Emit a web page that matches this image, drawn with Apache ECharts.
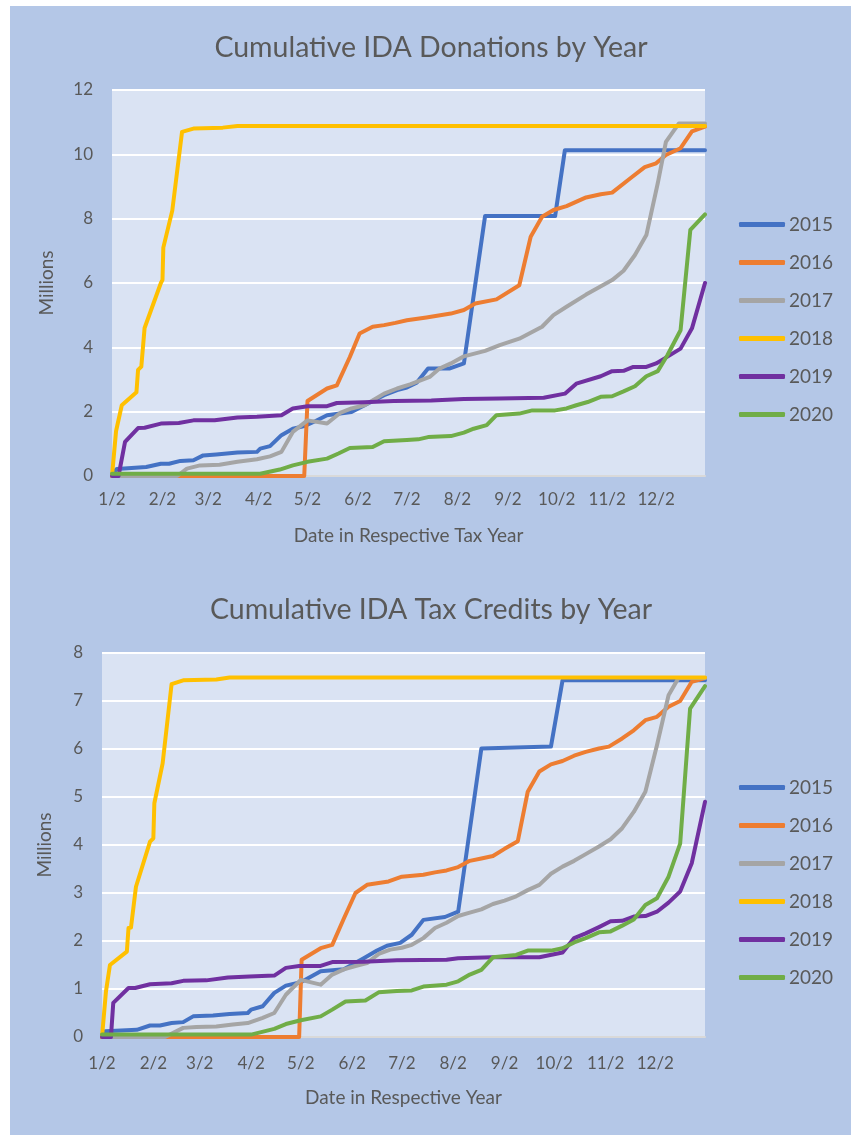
<!DOCTYPE html>
<html>
<head>
<meta charset="utf-8">
<script src="https://cdn.jsdelivr.net/npm/echarts@6.0.0/dist/echarts.min.js"></script>
<style>
  html, body { margin: 0; padding: 0; background: #fff; }
  #main { width: 851px; height: 1135px; }
</style>
</head>
<body>
<div id="main"></div>
<script>
// x positions are days counted from Jan 2 (non-leap year, Dec 31 = 363)
var tickDays = [0, 31, 59, 90, 120, 151, 181, 212, 243, 273, 304, 334];
var tickLabels = ['1/2', '2/2', '3/2', '4/2', '5/2', '6/2', '7/2', '8/2', '9/2', '10/2', '11/2', '12/2'];
var years = ['2015', '2016', '2017', '2018', '2019', '2020'];
var colors = ['#4472C4', '#ED7D31', '#A5A5A5', '#FFC000', '#7030A0', '#70AD47'];

// ---- Cumulative donations (millions) ----
var don2015Days = [0, 3, 21, 30, 35, 42, 50, 56, 64, 77, 89, 91, 97, 104, 111, 118, 125, 132, 140, 147, 155, 167, 175, 181, 187, 194, 207, 216, 229, 272, 278, 364];
var don2015 = [0.05, 0.22, 0.28, 0.38, 0.38, 0.47, 0.49, 0.64, 0.67, 0.73, 0.75, 0.85, 0.93, 1.27, 1.47, 1.55, 1.71, 1.89, 1.94, 1.99, 2.2, 2.51, 2.67, 2.75, 2.9, 3.34, 3.34, 3.5, 8.08, 8.08, 10.13, 10.13];
var don2016Days = [0, 118, 120, 132, 138, 146, 152, 160, 167, 174, 181, 193, 208, 216, 223, 236, 250, 257, 264, 271, 279, 291, 300, 307, 318, 327, 334, 340, 349, 356, 364];
var don2016 = [0, 0, 2.33, 2.72, 2.82, 3.7, 4.43, 4.64, 4.69, 4.76, 4.84, 4.93, 5.05, 5.16, 5.36, 5.49, 5.93, 7.44, 8.06, 8.27, 8.39, 8.66, 8.76, 8.81, 9.25, 9.6, 9.72, 9.98, 10.19, 10.71, 10.86];
var don2017Days = [0, 40, 46, 54, 66, 77, 89, 97, 104, 111, 120, 132, 140, 147, 155, 167, 175, 183, 195, 201, 208, 216, 229, 238, 250, 264, 271, 279, 291, 307, 314, 321, 328, 335, 340, 348, 364];
var don2017 = [0, 0, 0.23, 0.33, 0.35, 0.44, 0.52, 0.61, 0.75, 1.37, 1.73, 1.63, 1.96, 2.1, 2.2, 2.56, 2.72, 2.85, 3.08, 3.34, 3.5, 3.72, 3.89, 4.07, 4.27, 4.64, 5.0, 5.26, 5.64, 6.09, 6.38, 6.87, 7.49, 9.1, 10.39, 10.96, 10.96];
var don2018Days = [0, 2.5, 6, 15, 16, 18, 20, 30, 31, 31.5, 37, 43, 50, 68, 77, 364];
var don2018 = [0, 1.4, 2.2, 2.6, 3.3, 3.4, 4.6, 6.0, 6.1, 7.1, 8.25, 10.7, 10.8, 10.83, 10.88, 10.88];
var don2019Days = [0, 4, 8, 16, 20, 30, 41, 50, 63, 77, 89, 104, 111, 120, 132, 138, 155, 173, 196, 216, 238, 265, 278, 285, 300, 307, 314, 320, 328, 334, 340, 349, 356, 364];
var don2019 = [0, 0, 1.06, 1.49, 1.5, 1.63, 1.65, 1.73, 1.73, 1.82, 1.84, 1.89, 2.1, 2.17, 2.17, 2.27, 2.29, 2.33, 2.35, 2.39, 2.41, 2.43, 2.56, 2.87, 3.1, 3.26, 3.27, 3.39, 3.39, 3.5, 3.68, 3.96, 4.59, 6.0];
var don2020Days = [0, 91, 103, 111, 120, 132, 139, 146, 160, 167, 181, 188, 194, 208, 216, 222, 230, 236, 250, 258, 272, 279, 285, 292, 300, 307, 314, 321, 328, 335, 341, 349, 355, 364];
var don2020 = [0.07, 0.07, 0.2, 0.33, 0.44, 0.54, 0.7, 0.87, 0.9, 1.08, 1.12, 1.14, 1.21, 1.24, 1.35, 1.47, 1.58, 1.89, 1.94, 2.04, 2.04, 2.1, 2.2, 2.3, 2.46, 2.48, 2.63, 2.79, 3.1, 3.26, 3.76, 4.53, 7.65, 8.13];

// ---- Cumulative tax credits (millions) ----
var cr2015Days = [0, 2, 21, 29, 35, 42, 49, 55, 67, 77, 88, 90, 97, 104, 111, 120, 132, 146, 158, 166, 172, 180, 187, 194, 207, 215, 229, 271, 278, 364];
var cr2015 = [0, 0.12, 0.15, 0.24, 0.24, 0.29, 0.31, 0.43, 0.45, 0.48, 0.5, 0.57, 0.64, 0.92, 1.07, 1.14, 1.37, 1.41, 1.64, 1.8, 1.9, 1.96, 2.13, 2.44, 2.5, 2.61, 6.01, 6.05, 7.43, 7.43];
var cr2016Days = [0, 119, 120.5, 132, 139, 146, 153, 160, 173, 181, 194, 201, 208, 215, 222, 229, 236, 243, 251, 257, 264, 271, 278, 285, 292, 300, 306, 314, 321, 328, 335, 342, 349, 356, 364];
var cr2016 = [0, 0, 1.61, 1.85, 1.92, 2.47, 3.0, 3.17, 3.24, 3.34, 3.38, 3.43, 3.47, 3.54, 3.67, 3.72, 3.77, 3.92, 4.08, 5.11, 5.53, 5.68, 5.75, 5.86, 5.94, 6.01, 6.05, 6.22, 6.39, 6.6, 6.67, 6.88, 7.0, 7.4, 7.48];
var cr2017Days = [0, 38, 49, 57, 69, 79, 88, 97, 104, 111, 120, 132, 139, 146, 153, 160, 167, 174, 181, 187, 194, 201, 208, 215, 222, 229, 236, 243, 250, 257, 264, 271, 278, 285, 292, 300, 307, 314, 321, 328, 335, 342, 348, 364];
var cr2017 = [0, 0, 0.19, 0.21, 0.22, 0.26, 0.29, 0.4, 0.5, 0.88, 1.19, 1.09, 1.3, 1.41, 1.48, 1.54, 1.73, 1.82, 1.86, 1.92, 2.06, 2.27, 2.38, 2.52, 2.59, 2.66, 2.77, 2.84, 2.93, 3.06, 3.17, 3.4, 3.55, 3.67, 3.81, 3.97, 4.12, 4.35, 4.69, 5.11, 6.08, 7.12, 7.48, 7.48];
var cr2018Days = [0, 2.4, 4.8, 15, 16, 17.5, 20.5, 29, 31, 31.6, 36.6, 42, 49, 69, 77, 364];
var cr2018 = [0, 0.95, 1.5, 1.78, 2.27, 2.28, 3.13, 4.07, 4.14, 4.87, 5.7, 7.35, 7.43, 7.45, 7.49, 7.49];
var cr2019Days = [0, 5.4, 6.8, 16, 20, 29, 42, 49, 63, 76, 89, 104, 111, 119, 132, 139, 158, 178, 208, 215, 236, 264, 278, 285, 292, 300, 307, 314, 321, 328, 335, 342, 349, 356, 364];
var cr2019 = [0, 0, 0.71, 1.02, 1.02, 1.1, 1.12, 1.17, 1.18, 1.24, 1.26, 1.28, 1.44, 1.48, 1.48, 1.56, 1.57, 1.6, 1.61, 1.64, 1.66, 1.66, 1.76, 2.06, 2.16, 2.29, 2.41, 2.42, 2.51, 2.52, 2.61, 2.8, 3.03, 3.62, 4.9];
var cr2020Days = [0, 90, 104, 111, 120, 132, 139, 147, 159, 167, 178, 187, 194, 208, 215, 222, 229, 236, 250, 257, 271, 278, 285, 292, 300, 307, 314, 321, 328, 335, 342, 349, 355, 364];
var cr2020 = [0.05, 0.05, 0.17, 0.27, 0.35, 0.43, 0.57, 0.74, 0.76, 0.93, 0.96, 0.97, 1.05, 1.09, 1.16, 1.3, 1.4, 1.66, 1.71, 1.8, 1.8, 1.85, 1.97, 2.06, 2.18, 2.2, 2.32, 2.45, 2.75, 2.89, 3.34, 4.03, 6.84, 7.31];

var donDays = [don2015Days, don2016Days, don2017Days, don2018Days, don2019Days, don2020Days];
var donVals = [don2015, don2016, don2017, don2018, don2019, don2020];
var crDays = [cr2015Days, cr2016Days, cr2017Days, cr2018Days, cr2019Days, cr2020Days];
var crVals = [cr2015, cr2016, cr2017, cr2018, cr2019, cr2020];

var font = 'Lato, "Open Sans", sans-serif';
var textColor = '#595959';

function pairs(days, vals) {
    return days.map(function (d, i) { return [d, vals[i]]; });
}

function makeX(gridIndex, title, gap, margin) {
    return {
        type: 'value', gridIndex: gridIndex, min: 0, max: 364,
        name: title, nameLocation: 'middle', nameGap: gap,
        nameTextStyle: { fontSize: 19, color: textColor, fontFamily: font },
        axisLine: { show: true, lineStyle: { color: '#D9D9D9', width: 2 } },
        axisTick: { show: false },
        splitLine: { show: false },
        axisLabel: {
            customValues: tickDays, margin: margin,
            fontSize: 17, color: textColor, fontFamily: font,
            formatter: function (v) {
                var i = tickDays.indexOf(v);
                return i >= 0 ? tickLabels[i] : '';
            }
        }
    };
}

function makeY(gridIndex, max, interval, gap) {
    return {
        type: 'value', gridIndex: gridIndex, min: 0, max: max, interval: interval,
        name: 'Millions', nameLocation: 'middle', nameGap: gap, nameRotate: 90,
        nameTextStyle: { fontSize: 19, color: textColor, fontFamily: font },
        axisLine: { show: false },
        axisTick: { show: false },
        axisLabel: { margin: 19, fontSize: 17, color: textColor, fontFamily: font },
        splitLine: { lineStyle: { color: '#FFFFFF', width: 2 } }
    };
}

function makeLegend(top) {
    return {
        orient: 'vertical', left: 739, top: top, padding: 0,
        icon: 'roundRect', itemWidth: 46, itemHeight: 5, itemGap: 19,
        data: years,
        textStyle: { fontSize: 19, color: textColor, fontFamily: font, padding: [0, 0, 0, -1] }
    };
}

var series = [];
years.forEach(function (y, i) {
    series.push({
        name: y, type: 'line', xAxisIndex: 0, yAxisIndex: 0,
        data: pairs(donDays[i], donVals[i]),
        showSymbol: false, symbol: 'none', color: colors[i],
        lineStyle: { width: 4, color: colors[i], join: 'round', cap: 'round' }
    });
});
years.forEach(function (y, i) {
    series.push({
        name: y, type: 'line', xAxisIndex: 1, yAxisIndex: 1,
        data: pairs(crDays[i], crVals[i]),
        showSymbol: false, symbol: 'none', color: colors[i],
        lineStyle: { width: 4, color: colors[i], join: 'round', cap: 'round' }
    });
});

var chart = echarts.init(document.getElementById('main'));
var option = {
    animation: false,
    backgroundColor: '#FFFFFF',
    graphic: [{
        type: 'rect', z: -100, silent: true,
        shape: { x: 10, y: 6, width: 841, height: 1129 },
        style: { fill: '#B4C7E7' }
    }],
    title: [
        { text: 'Cumulative IDA Donations by Year', left: 426, top: 28, textAlign: 'center',
          textStyle: { fontSize: 28.5, fontWeight: 'normal', color: textColor, fontFamily: font } },
        { text: 'Cumulative IDA Tax Credits by Year', left: 426, top: 590, textAlign: 'center',
          textStyle: { fontSize: 28.5, fontWeight: 'normal', color: textColor, fontFamily: font } }
    ],
    legend: [makeLegend(215), makeLegend(778)],
    grid: [
        { left: 112, top: 90, width: 593, height: 386, show: true, backgroundColor: '#DAE3F3', borderWidth: 0 },
        { left: 102, top: 653, width: 603, height: 384, show: true, backgroundColor: '#DAE3F3', borderWidth: 0 }
    ],
    xAxis: [makeX(0, 'Date in Respective Tax Year', 50, 15), makeX(1, 'Date in Respective Year', 51, 18)],
    yAxis: [makeY(0, 12, 2, 56), makeY(1, 8, 1, 48)],
    series: series
};
chart.setOption(option);
</script>
</body>
</html>
